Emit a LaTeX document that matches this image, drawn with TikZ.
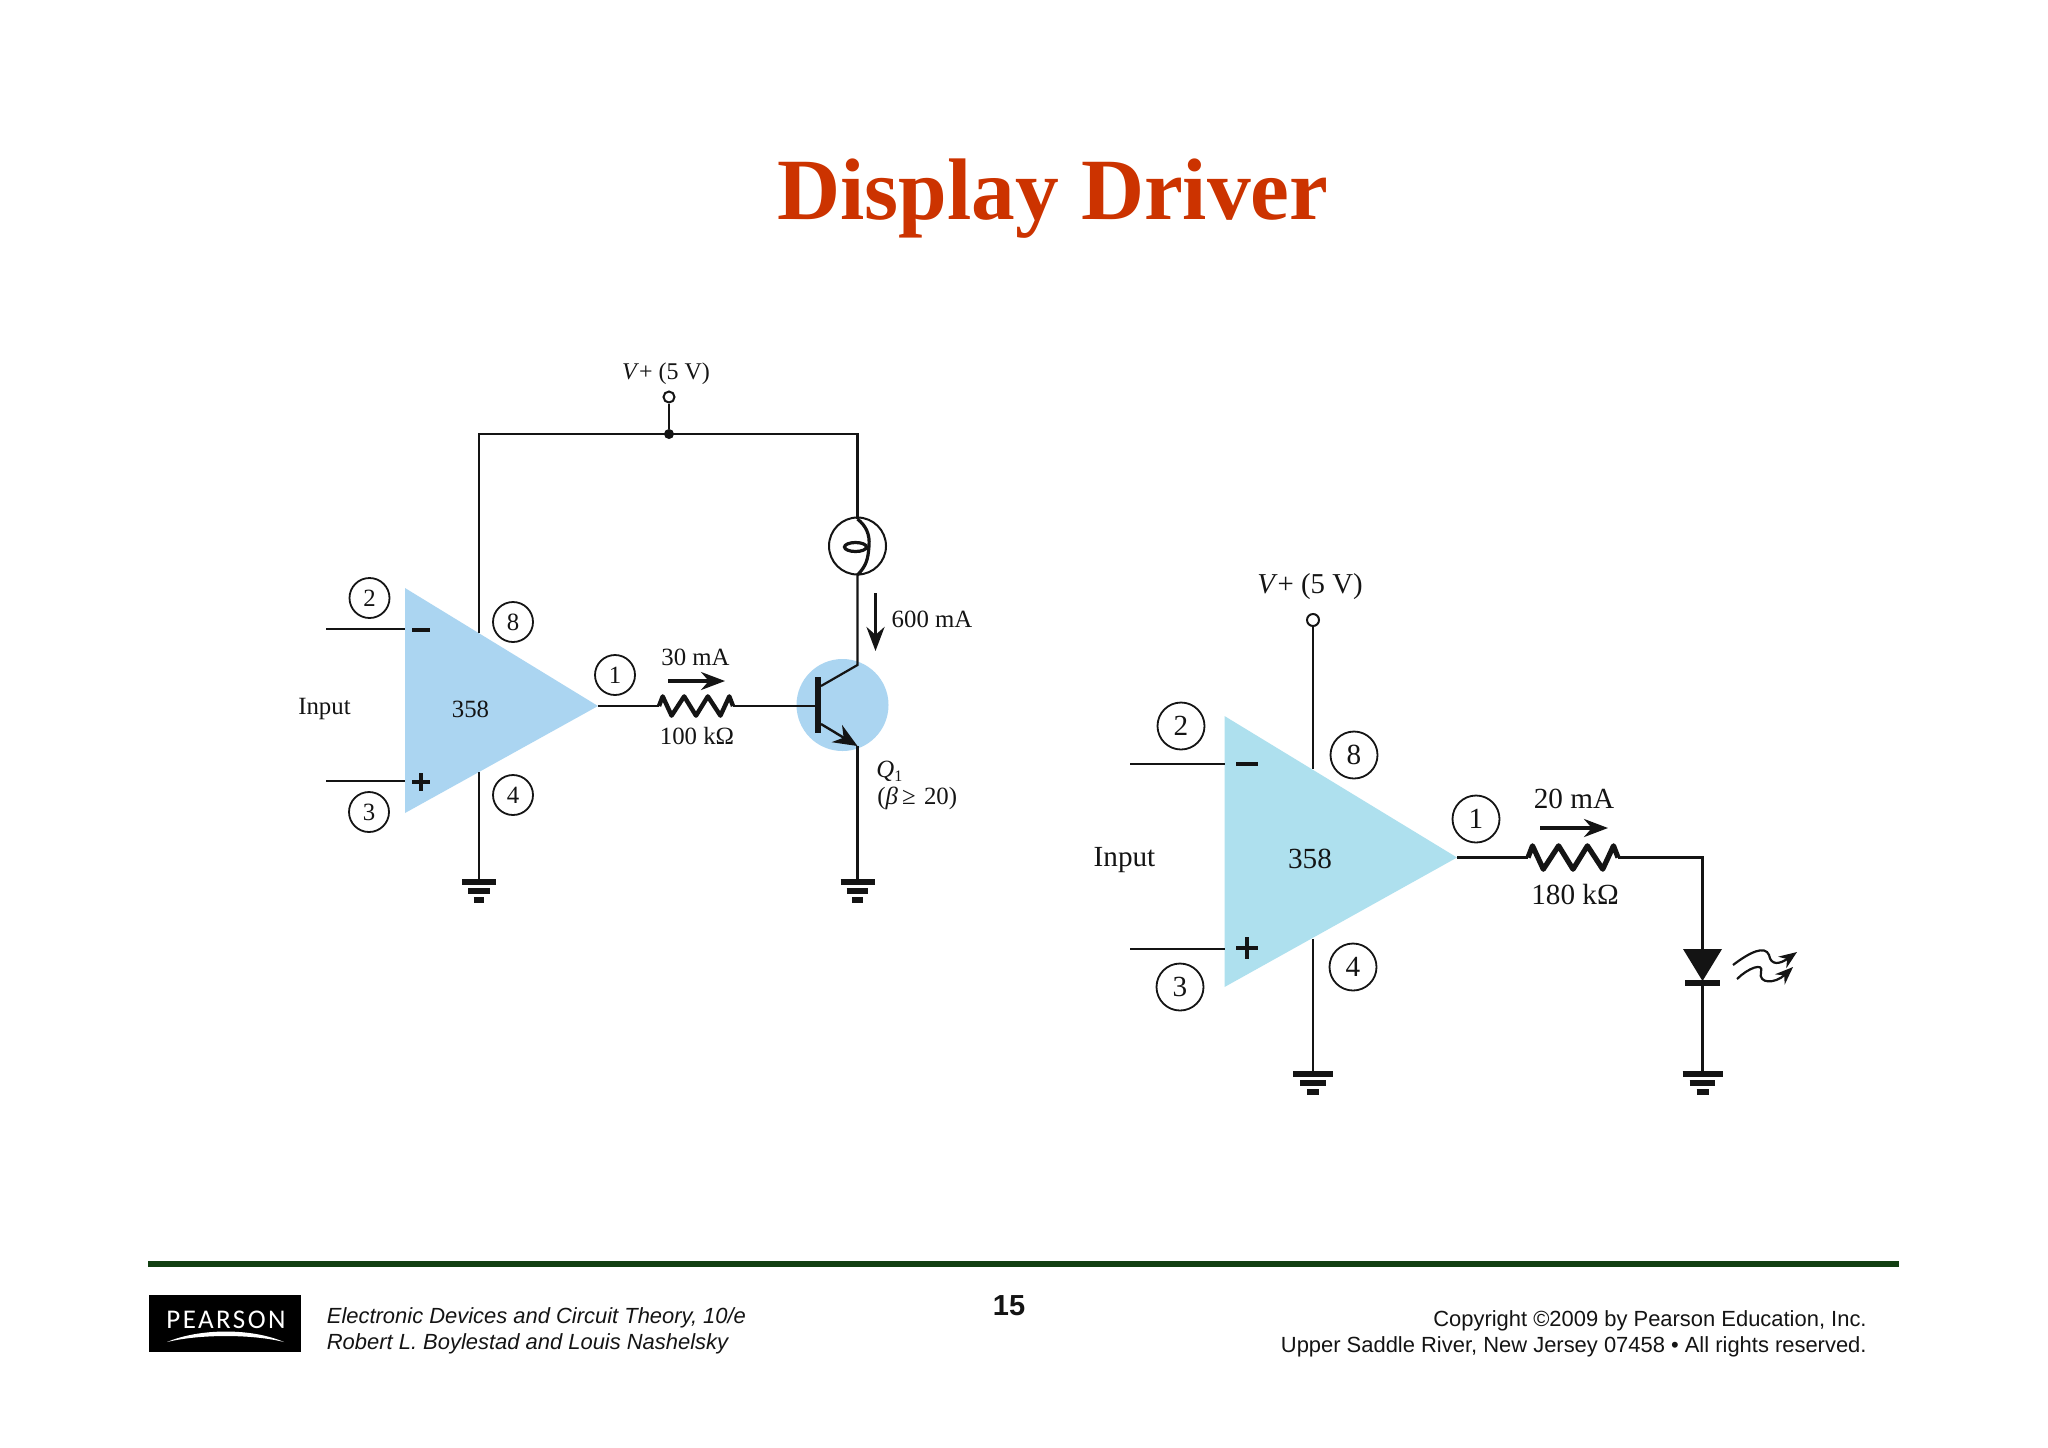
\documentclass[tikz,border=0pt]{standalone}
\usepackage{fontspec}
\setmainfont{Liberation Serif}
\newfontfamily\hv{Liberation Sans}
\newfontfamily\logofont[LetterSpace=9]{Carlito}
\usetikzlibrary{arrows.meta}
\definecolor{titlered}{HTML}{CC3300}
\definecolor{ruleg}{HTML}{123F12}
\definecolor{ampL}{HTML}{ABD5F1}
\definecolor{ampR}{HTML}{AEE0EE}
\definecolor{ink}{HTML}{141414}
\newcommand\szL{\fontsize{12.4}{14}\selectfont}
\newcommand\szR{\fontsize{14.6}{17}\selectfont}
\newcommand\foot{\hv\fontsize{10.97}{13}\selectfont}
\newcommand\gndsym[2]{%
  \draw[gndbar] (#1) ++(-#2,0) -- ++(2*#2,0);
  \draw[gndbar] (#1) ++(-0.64*#2,9) -- ++(1.28*#2,0);
  \draw[gndbar] (#1) ++(-0.3*#2,18) -- ++(0.6*#2,0);}
\newcommand\zig[3]{%
  \draw[res,line width=#3] (#1) -- ++(0.05*#2,-0.13*#2) -- ++(0.12*#2,0.26*#2) -- ++(0.17*#2,-0.26*#2) -- ++(0.16*#2,0.26*#2) -- ++(0.16*#2,-0.26*#2) -- ++(0.17*#2,0.26*#2) -- ++(0.12*#2,-0.26*#2) -- ++(0.05*#2,0.13*#2);}
\tikzset{
  wire/.style={draw=ink,line width=1.1pt},
  gndbar/.style={draw=ink,line width=2.7pt},
  res/.style={draw=ink,line join=round},
  tag/.style={circle,draw=ink,line width=0.9pt,inner sep=0pt,text=ink},
  tagL/.style={tag,minimum size=20pt,font=\szL},
  tagR/.style={tag,minimum size=23.5pt,font=\szR},
  txtL/.style={text=ink,font=\szL,inner sep=0pt},
  txtR/.style={text=ink,font=\szR,inner sep=0pt},
  pin/.style={circle,draw=ink,fill=white,line width=1pt,inner sep=0pt,minimum size=5.5pt},
  dot/.style={circle,fill=ink,inner sep=0pt,minimum size=5pt},
  curarrow/.style={-{Stealth[length=12pt,width=9pt]},draw=ink,line width=1.6pt},
  footl/.style={anchor=base west,inner sep=0pt,font=\foot,text=ink},
  footr/.style={anchor=base east,inner sep=0pt,font=\foot,text=ink},
}
\begin{document}
\begin{tikzpicture}[x=0.5pt,y=-0.5pt]
\useasboundingbox[fill=white] (0,0) rectangle (2048,1447);
% title
\node[anchor=base,inner sep=0pt,text=titlered,font=\fontsize{43.7}{50}\selectfont\bfseries] (title) at (1053,219.5) {Display Driver};
% ---------- left circuit
\fill[ampL] (842.5,705) circle (46);
\fill[ampL] (405,588) -- (598,706) -- (405,813) -- cycle;
\coordinate (Lapex) at (598,706);
\node[pin] (Lvp) at (669,397) {};
\node[dot] (Ljn) at (669,434) {};
\coordinate (Ltl) at (479,434);
\coordinate (Ltop) at (479,633);
\coordinate (Ltr) at (857.5,434);
\coordinate (Llt) at (857.5,519);
\coordinate (Llb) at (857.5,575);
\coordinate (Lcol) at (857.5,665);
\coordinate (Lcb) at (821,686);
\coordinate (Leb) at (821,724);
\coordinate (Lem) at (857.5,746);
\coordinate (Lg1) at (479,772);
\coordinate (Lg1b) at (479,882);
\coordinate (Lg2b) at (857.5,882);
\coordinate (Lr1) at (659,706);
\coordinate (Lr2) at (733,706);
\coordinate (Lbase) at (818,706);
\coordinate (Li1a) at (326,629);
\coordinate (Li1b) at (405,629);
\coordinate (Li2a) at (326,781);
\coordinate (Li2b) at (405,781);
\draw[wire] (Lvp) -- (Ljn);
\draw[wire] (Ltop) -- (Ltl) -- (Ltr) -- (Llt);
\draw[wire] (Llb) -- (Lcol) -- (Lcb);
\draw[wire] (Lem) -- (Lg2b);
\draw[wire] (Lg1) -- (Lg1b);
\draw[wire] (Lapex) -- (Lr1);
\draw[wire] (Lr2) -- (Lbase);
\draw[wire] (Li1a) -- (Li1b);
\draw[wire] (Li2a) -- (Li2b);
\zig{Lr1}{74}{2.2pt}
\draw[draw=ink,line width=3.2pt] (818,677) -- (818,733);
\draw[draw=ink,line width=1.2pt,-{Stealth[length=12pt,width=10pt]}] (Leb) -- (Lem);
\draw[draw=ink,line width=1pt] (857.5,546) circle (28.5);
\draw[draw=ink,line width=1.6pt] (Llt) .. controls (866,526) and (870,534) .. (869,546) .. controls (868,560) and (866,566) .. (Llb);
\draw[draw=ink,line width=1.6pt] (855.5,547) ellipse (11 and 4.5);
\gndsym{Lg1b}{17}
\gndsym{Lg2b}{17}
\draw[curarrow] (875.5,593) -- (875.5,651);
\draw[curarrow] (668,681) -- (725,681);
\node[txtL,font=\fontsize{12}{14}\selectfont] (Lv) at (666,373.5) {\textit{V}+ (5 V)};
\node[tagL] (L2) at (369.5,598) {2};
\node[tagL] (L8) at (513,622) {8};
\node[tagL] (L1) at (615,675) {1};
\node[tagL] (L3) at (369,812) {3};
\node[tagL] (L4) at (513,795) {4};
\node[txtL] (Lin) at (324.5,709) {Input};
\node[txtL] (L358) at (470.5,709) {358};
\node[txtL] (L30) at (695.5,657) {30 mA};
\node[txtL] (L100) at (697,736) {100 kΩ};
\node[txtL] (L600) at (932,619) {600 mA};
\node[txtL,anchor=west] (LQ) at (876,771) {\textit{Q}\raisebox{-2pt}{\fontsize{8}{9}\selectfont 1}};
\node[txtL,anchor=west] (Lb) at (877,798) {(\textit{β}\,≥\,\,20)};
\draw[draw=ink,line width=2pt] (412,630) -- (430,630);
\draw[draw=ink,line width=2pt] (412,782) -- (430,782) (421,773) -- (421,791);
% ---------- right circuit
\fill[ampR] (1224.5,716) -- (1457,857.5) -- (1224.5,987) -- cycle;
\coordinate (Rapex) at (1457,857.5);
\node[pin,minimum size=6pt] (Rvp) at (1313,620) {};
\coordinate (Rtop) at (1313,769);
\coordinate (Rbot) at (1313,939);
\coordinate (Rg1) at (1313,1074);
\coordinate (Rg2) at (1702.5,1074);
\coordinate (Rr1) at (1528,857.5);
\coordinate (Rr2) at (1618,857.5);
\coordinate (Rc) at (1702.5,857.5);
\coordinate (Rdt) at (1702.5,949);
\coordinate (Rdb) at (1702.5,983);
\coordinate (Ri1a) at (1130,764);
\coordinate (Ri1b) at (1224.5,764);
\coordinate (Ri2a) at (1130,949);
\coordinate (Ri2b) at (1224.5,949);
\draw[wire] (Rvp) -- (Rtop);
\draw[wire] (Rbot) -- (Rg1);
\draw[wire] (Rapex) -- (Rr1);
\draw[wire] (Rr2) -- (Rc) -- (Rdt);
\draw[wire] (Rdb) -- (Rg2);
\draw[wire] (Ri1a) -- (Ri1b);
\draw[wire] (Ri2a) -- (Ri2b);
\zig{Rr1}{90}{2.6pt}
\fill[ink] (1683,949) -- (1722,949) -- (1702.5,981) -- cycle;
\draw[draw=ink,line width=2.6pt] (1685,983) -- (1720,983);
\gndsym{Rg1}{20}
\gndsym{Rg2}{20}
\draw[draw=ink,line width=1.1pt,-{Stealth[length=9pt,width=7pt]}] (1733,965) .. controls (1750,952) and (1765,945) .. (1769,955) .. controls (1771,966) and (1780,964) .. (1797,952);
\draw[draw=ink,line width=1.1pt,-{Stealth[length=9pt,width=7pt]}] (1737,979) .. controls (1748,968) and (1764,962) .. (1761,972) .. controls (1758,984) and (1775,984) .. (1793,967);
\draw[curarrow,line width=1.8pt] (1540,828) -- (1608,828);
\node[txtR,font=\fontsize{14.4}{17}\selectfont] (Rv) at (1310,587) {\textit{V}+ (5 V)};
\node[tagR] (R2) at (1181,726) {2};
\node[tagR] (R8) at (1354,755) {8};
\node[tagR] (R1) at (1476,819) {1};
\node[tagR] (R3) at (1180,987) {3};
\node[tagR] (R4) at (1353,967) {4};
\node[txtR] (Rin) at (1124.5,860) {Input};
\node[txtR] (R358) at (1310,859) {358};
\node[txtR] (R20) at (1574,798.5) {20 mA};
\node[txtR] (R180) at (1575,894) {180 kΩ};
\draw[draw=ink,line width=2.4pt] (1236,764) -- (1258,764);
\draw[draw=ink,line width=2.4pt] (1236,948) -- (1258,948) (1247,937) -- (1247,959);
% ---------- footer
\draw[ruleg,line width=3pt] (148,1263.5) -- (1899,1263.5);
\fill[black] (149,1294.5) rectangle (301,1351.5);
\node[anchor=center,inner sep=0pt,text=white,font=\logofont\fontsize{13.5}{15}\selectfont] (logo) at (226,1320) {PEARSON};
\fill[white] (167,1342) .. controls (200,1328) and (252,1328) .. (284,1342) .. controls (252,1334) and (200,1334) .. cycle;
\node[footl] (f1) at (326.5,1323.5) {\itshape Electronic Devices and Circuit Theory, 10/e};
\node[footl] (f2) at (326.5,1349.5) {\itshape Robert L. Boylestad and Louis Nashelsky};
\node[inner sep=0pt,text=ink,font=\hv\bfseries\fontsize{14.5}{16}\selectfont] (pg) at (1009,1306) {15};
\node[footr] (f3) at (1867,1326) {Copyright ©2009 by Pearson Education, Inc.};
\node[footr] (f4) at (1867,1352.5) {Upper Saddle River, New Jersey 07458 • All rights reserved.};
\end{tikzpicture}
\end{document}
